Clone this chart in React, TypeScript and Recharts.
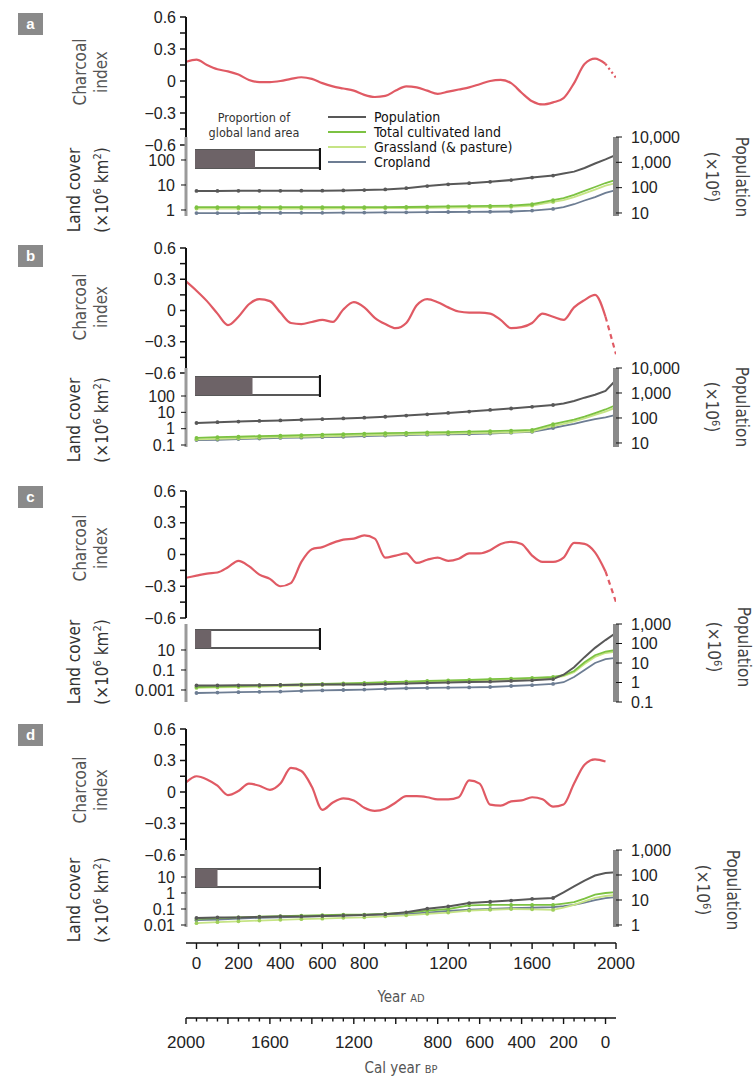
import React from "react";
import { LineChart, Line, XAxis, YAxis, BarChart, Bar, ReferenceLine } from "recharts";

const SANS = "'Liberation Sans', Arial, sans-serif";
const NARROW = "'Liberation Sans Narrow', 'DejaVu Sans Condensed', 'Liberation Sans', sans-serif";
const RED = "#e05a64";
const POP_COLOR = "#585858";
const TOTAL_COLOR = "#7cc242";
const GRASS_COLOR = "#c6e485";
const CROP_COLOR = "#6d7d93";

// charcoal index, every 50 years AD
const charcoalYears = [-50, 0, 50, 100, 150, 200, 250, 300, 350, 400, 450, 500, 550, 600, 650, 700, 750, 800, 850, 900, 950, 1000, 1050, 1100, 1150, 1200, 1250, 1300, 1350, 1400, 1450, 1500, 1550, 1600, 1650, 1700, 1750, 1800, 1850, 1900, 1950, 2000];
const charcoalA = [0.18, 0.2, 0.15, 0.11, 0.09, 0.06, 0.01, -0.01, -0.01, 0.0, 0.02, 0.035, 0.02, -0.02, -0.05, -0.07, -0.09, -0.13, -0.15, -0.14, -0.09, -0.05, -0.06, -0.09, -0.12, -0.1, -0.08, -0.06, -0.03, 0.0, 0.01, -0.02, -0.11, -0.19, -0.22, -0.2, -0.16, -0.02, 0.16, 0.21, 0.16, 0.03];
const charcoalB = [0.28, 0.19, 0.09, -0.03, -0.14, -0.06, 0.06, 0.11, 0.09, -0.02, -0.12, -0.13, -0.11, -0.09, -0.11, 0.01, 0.08, 0.03, -0.07, -0.13, -0.17, -0.12, 0.05, 0.11, 0.08, 0.03, -0.01, -0.02, -0.02, -0.03, -0.09, -0.17, -0.16, -0.12, -0.03, -0.06, -0.09, 0.03, 0.1, 0.15, -0.06, -0.42];
const charcoalC = [-0.22, -0.2, -0.18, -0.17, -0.12, -0.06, -0.11, -0.19, -0.23, -0.3, -0.27, -0.07, 0.05, 0.07, 0.11, 0.14, 0.15, 0.18, 0.15, -0.03, -0.01, 0.01, -0.08, -0.05, -0.03, -0.06, -0.04, 0.01, 0.01, 0.04, 0.1, 0.12, 0.1, -0.01, -0.07, -0.07, -0.03, 0.11, 0.1, 0.02, -0.16, -0.45];
const charcoalD = [0.09, 0.15, 0.12, 0.06, -0.03, 0.01, 0.08, 0.06, 0.02, 0.08, 0.23, 0.2, 0.05, -0.17, -0.1, -0.06, -0.08, -0.15, -0.18, -0.16, -0.1, -0.04, -0.04, -0.05, -0.07, -0.07, -0.05, 0.11, 0.08, -0.12, -0.13, -0.09, -0.08, -0.05, -0.07, -0.14, -0.12, 0.08, 0.26, 0.31, 0.29, null];

// land cover (x10^6 km2) and population (x10^6)
const landYears = [0, 100, 200, 300, 400, 500, 600, 700, 800, 900, 1000, 1100, 1200, 1300, 1400, 1500, 1600, 1700, 1750, 1800, 1850, 1900, 1950, 2000];
const popA = [74, 74, 75, 75, 75, 76, 76, 78, 80, 85, 95, 115, 135, 150, 170, 200, 250, 300, 360, 430, 600, 900, 1300, 1950];
const totalA = [1.3, 1.3, 1.3, 1.3, 1.3, 1.3, 1.3, 1.3, 1.3, 1.3, 1.32, 1.35, 1.4, 1.42, 1.45, 1.5, 1.7, 2.5, 3.0, 4.0, 5.8, 8.3, 12, 16];
const grassA = [1.15, 1.15, 1.15, 1.15, 1.15, 1.15, 1.15, 1.16, 1.17, 1.18, 1.2, 1.22, 1.25, 1.27, 1.3, 1.35, 1.5, 2.1, 2.5, 3.3, 4.6, 6.5, 9.5, 12];
const cropA = [0.75, 0.75, 0.75, 0.76, 0.76, 0.77, 0.77, 0.78, 0.79, 0.8, 0.81, 0.82, 0.83, 0.84, 0.85, 0.87, 0.95, 1.1, 1.3, 1.7, 2.4, 3.3, 4.8, 6.3];

const popB = [63, 68, 72, 76, 80, 85, 90, 96, 103, 112, 125, 140, 160, 180, 210, 240, 280, 330, 380, 480, 650, 850, 1200, 3300];
const totalB = [0.27, 0.3, 0.32, 0.35, 0.37, 0.4, 0.43, 0.46, 0.5, 0.53, 0.56, 0.59, 0.62, 0.66, 0.7, 0.76, 0.85, 1.9, 2.6, 3.6, 5.5, 9, 15, 28];
const grassB = [0.22, 0.24, 0.26, 0.28, 0.3, 0.32, 0.34, 0.37, 0.4, 0.42, 0.45, 0.47, 0.5, 0.53, 0.56, 0.6, 0.68, 1.5, 2.0, 2.8, 4.2, 7, 11, 20];
const cropB = [0.2, 0.21, 0.23, 0.25, 0.27, 0.28, 0.3, 0.32, 0.35, 0.38, 0.41, 0.43, 0.45, 0.47, 0.5, 0.57, 0.65, 1.1, 1.5, 2.0, 2.8, 3.8, 5, 7];

const popC = [0.7, 0.71, 0.72, 0.73, 0.75, 0.76, 0.78, 0.79, 0.8, 0.85, 0.9, 0.95, 1.0, 1.05, 1.1, 1.2, 1.3, 1.5, 2.5, 6, 20, 60, 150, 350];
const totalC = [0.002, 0.0022, 0.0025, 0.0028, 0.0032, 0.0036, 0.004, 0.0045, 0.005, 0.006, 0.007, 0.008, 0.009, 0.01, 0.012, 0.014, 0.016, 0.02, 0.03, 0.08, 0.6, 3, 7, 10];
const grassC = [0.0016, 0.0018, 0.002, 0.0022, 0.0025, 0.0028, 0.0032, 0.0036, 0.004, 0.0048, 0.0056, 0.0064, 0.0072, 0.008, 0.0095, 0.011, 0.013, 0.016, 0.024, 0.06, 0.4, 2, 5, 7];
const cropC = [0.0005, 0.00055, 0.0006, 0.00065, 0.0007, 0.0008, 0.0009, 0.001, 0.0011, 0.0013, 0.0015, 0.0016, 0.0017, 0.0018, 0.002, 0.0025, 0.003, 0.004, 0.006, 0.02, 0.1, 0.5, 1.2, 1.6];

const popD = [1.9, 2.0, 2.0, 2.1, 2.2, 2.2, 2.3, 2.4, 2.5, 2.7, 3.2, 4.5, 5.5, 7.5, 8.5, 9.5, 11, 12, 20, 35, 60, 95, 120, 130];
const totalD = [0.024, 0.027, 0.03, 0.033, 0.036, 0.039, 0.042, 0.045, 0.045, 0.05, 0.06, 0.08, 0.1, 0.17, 0.18, 0.18, 0.18, 0.18, 0.22, 0.27, 0.45, 0.8, 1.0, 1.15];
const grassD = [0.013, 0.015, 0.017, 0.019, 0.021, 0.023, 0.025, 0.028, 0.03, 0.035, 0.04, 0.05, 0.06, 0.08, 0.09, 0.1, 0.095, 0.087, 0.12, 0.18, 0.3, 0.49, 0.65, 0.75];
const cropD = [0.02, 0.022, 0.025, 0.028, 0.03, 0.033, 0.036, 0.04, 0.043, 0.047, 0.05, 0.06, 0.075, 0.09, 0.1, 0.115, 0.12, 0.13, 0.15, 0.18, 0.25, 0.36, 0.48, 0.56];

// proportion of global land area, panels a-d
const landShare = [0.48, 0.46, 0.13, 0.18];

const charcoalTicks = [-0.6, -0.45, -0.3, -0.15, 0, 0.15, 0.3, 0.45, 0.6];
const charcoalLabels = [-0.6, -0.3, 0, 0.3, 0.6];
const adTicks = [0, 100, 200, 300, 400, 500, 600, 700, 800, 900, 1000, 1100, 1200, 1300, 1400, 1500, 1600, 1700, 1800, 1900, 2000];
const bpTicks = [0, 50, 100, 150, 200, 250, 300, 350, 400, 450, 500, 550, 600, 650, 700, 750, 800, 850, 900, 950, 1000, 1050, 1100, 1150, 1200, 1250, 1300, 1350, 1400, 1450, 1500, 1550, 1600, 1650, 1700, 1750, 1800, 1850, 1900, 1950, 2000];
const axisLabels = [0, 200, 400, 600, 800, 1200, 1600, 2000];
const BP_ZERO_AD = 1950;

const panels = [
  {
    letter: "a", box: 13, charcoal: charcoalA, tailDash: "2 3", cTop: 17, cBottom: 145,
    pop: popA, total: totalA, grass: grassA, crop: cropA, lTop: 137, lBottom: 216,
    leftDomain: [0.575, 832], leftTicks: [1, 10, 100], rightDomain: [7.6, 10000], rightTicks: [10, 100, 1000, 10000],
    bar: 150, cLabel: 72, lLabel: 190, pLabel: 177, pX: 727,
  },
  {
    letter: "b", box: 245, charcoal: charcoalB, tailDash: "5 4", cTop: 248, cBottom: 373,
    pop: popB, total: totalB, grass: grassB, crop: cropB, lTop: 368, lBottom: 447,
    leftDomain: [0.0755, 5190], leftTicks: [0.1, 1, 10, 100], rightDomain: [6.9, 10000], rightTicks: [10, 100, 1000, 10000],
    bar: 377, cLabel: 307, lLabel: 420, pLabel: 407, pX: 727,
  },
  {
    letter: "c", box: 486, charcoal: charcoalC, tailDash: "5 4", cTop: 491, cBottom: 618,
    pop: popC, total: totalC, grass: grassC, crop: cropC, lTop: 624, lBottom: 702,
    leftDomain: [0.000063, 3981], leftTicks: [0.001, 0.1, 10], rightDomain: [0.1, 1000], rightTicks: [0.1, 1, 10, 100, 1000],
    bar: 630, cLabel: 548, lLabel: 662, pLabel: 647, pX: 729,
  },
  {
    letter: "d", box: 724, charcoal: charcoalD, tailDash: null, cTop: 729, cBottom: 855,
    pop: popD, total: totalD, grass: grassD, crop: cropD, lTop: 850, lBottom: 927,
    leftDomain: [0.0075, 487], leftTicks: [0.01, 0.1, 1, 10], rightDomain: [0.83, 1000], rightTicks: [1, 10, 100, 1000],
    bar: 869, cLabel: 790, lLabel: 900, pLabel: 890, pX: 718,
  },
];

const fmtCharcoal = (v: number) => {
  if (!charcoalLabels.some((l) => Math.abs(l - v) < 1e-9)) return "";
  if (Math.abs(v) < 1e-9) return "0";
  return v < 0 ? `\u2212${Math.abs(v).toFixed(1)}` : v.toFixed(1);
};
const fmtLog = (v: number) => (v >= 1000 ? v.toLocaleString("en-US") : String(v));

function RotLabel({ cx, cy, lines, angle, size, gap, color }: any) {
  return (
    <div
      style={{
        position: "absolute", left: cx, top: cy, transform: `translate(-50%, -50%) rotate(${angle}deg)`,
        textAlign: "center", whiteSpace: "nowrap", fontSize: size, lineHeight: `${gap}px`, color, fontFamily: NARROW,
      }}
    >
      {lines.map((l: any, i: number) => (
        <div key={i}>{l}</div>
      ))}
    </div>
  );
}

function CharcoalChart({ p }: any) {
  const data = charcoalYears.map((year, i) => ({
    year,
    solid: year <= 1950 ? p.charcoal[i] : null,
    tail: year >= 1950 ? p.charcoal[i] : null,
  }));
  const h = p.cBottom - p.cTop;
  return (
    <div style={{ position: "absolute", left: 0, top: p.cTop - 10 }}>
      <LineChart width={754} height={h + 20} data={data} margin={{ top: 10, right: 138, bottom: 10, left: 0 }}>
        <XAxis dataKey="year" type="number" domain={[-50, 2000]} hide allowDataOverflow />
        <YAxis
          width={186} domain={[-0.6, 0.6]} ticks={charcoalTicks} interval={0} tickFormatter={fmtCharcoal}
          axisLine={{ stroke: "#111", strokeWidth: 2 }} tickLine={{ stroke: "#111", strokeWidth: 1.5 }}
          tickSize={6} tickMargin={4} tick={{ fill: "#222", fontSize: 16, fontFamily: SANS }} allowDataOverflow
        />
        <Line dataKey="solid" type="monotone" stroke={RED} strokeWidth={2.2} dot={false} isAnimationActive={false} />
        {p.tailDash && (
          <Line dataKey="tail" type="monotone" stroke={RED} strokeWidth={2.2} strokeDasharray={p.tailDash} dot={false} isAnimationActive={false} />
        )}
      </LineChart>
    </div>
  );
}

const centuryDot = (color: string) => (props: any) => {
  const { cx, cy, payload, index } = props;
  if (payload.year > 1700 || cy == null) return <g key={`e-${index}`} />;
  return <circle key={`d-${index}`} cx={cx} cy={cy} r={1.9} fill={color} />;
};

function LandChart({ p }: any) {
  const data = landYears.map((year, i) => ({
    year, pop: p.pop[i], total: p.total[i], grass: p.grass[i], crop: p.crop[i],
  }));
  const h = p.lBottom - p.lTop;
  return (
    <div style={{ position: "absolute", left: 0, top: p.lTop - 10 }}>
      <LineChart width={754} height={h + 20} data={data} margin={{ top: 10, right: 0, bottom: 10, left: 0 }}>
        <XAxis dataKey="year" type="number" domain={[-50, 2000]} hide allowDataOverflow />
        <YAxis
          yAxisId="land" width={186} scale="log" domain={p.leftDomain} ticks={p.leftTicks} interval={0}
          tickFormatter={fmtLog} allowDataOverflow axisLine={{ stroke: "#9a9a9a", strokeWidth: 3 }}
          tickLine={{ stroke: "#111" }} tickSize={5} tickMargin={6} tick={{ fill: "#222", fontSize: 16, fontFamily: SANS }}
        />
        <YAxis
          yAxisId="pop" orientation="right" width={138} scale="log" domain={p.rightDomain} ticks={p.rightTicks}
          interval={0} tickFormatter={fmtLog} allowDataOverflow axisLine={{ stroke: "#8a8a8a", strokeWidth: 6 }}
          tickLine={{ stroke: "#111" }} tickSize={6} tickMargin={9} tick={{ fill: "#222", fontSize: 16, fontFamily: SANS }}
        />
        <Line yAxisId="land" dataKey="crop" stroke={CROP_COLOR} strokeWidth={1.8} dot={centuryDot(CROP_COLOR)} isAnimationActive={false} />
        <Line yAxisId="land" dataKey="grass" stroke={GRASS_COLOR} strokeWidth={1.8} dot={centuryDot("#9fcf5a")} isAnimationActive={false} />
        <Line yAxisId="land" dataKey="total" stroke={TOTAL_COLOR} strokeWidth={1.8} dot={centuryDot(TOTAL_COLOR)} isAnimationActive={false} />
        <Line yAxisId="pop" dataKey="pop" stroke={POP_COLOR} strokeWidth={2} dot={centuryDot(POP_COLOR)} isAnimationActive={false} />
      </LineChart>
    </div>
  );
}

function ShareBar({ share, top }: any) {
  return (
    <div style={{ position: "absolute", left: 195, top: top - 2 }}>
      <BarChart layout="vertical" width={126} height={22} data={[{ name: "share", share }]} margin={{ top: 0, right: 1, bottom: 0, left: 0 }} barCategoryGap={2}>
        <XAxis type="number" domain={[0, 1]} hide />
        <YAxis type="category" dataKey="name" hide />
        <Bar dataKey="share" fill="#6d6367" barSize={18} background={{ fill: "#fff", stroke: "#222", strokeWidth: 1.3 }} isAnimationActive={false} />
        <ReferenceLine x={1} stroke="#111" strokeWidth={2.2} />
      </BarChart>
    </div>
  );
}

function makeTick(majorStep: number, labelDy: number) {
  return (props: any) => {
    const { x, y, payload } = props;
    const v = payload.value;
    const major = v % majorStep === 0;
    return (
      <g>
        <line x1={x} x2={x} y1={y} y2={y + (major ? 6 : 3.5)} stroke="#111" strokeWidth={1.4} />
        {axisLabels.includes(v) && (
          <text x={x} y={y + labelDy} textAnchor="middle" fontSize={17} fontFamily={SANS} fill="#222">
            {v}
          </text>
        )}
      </g>
    );
  };
}

function TimeAxes() {
  const data = charcoalYears.map((year, i) => ({ year, bp: BP_ZERO_AD - year, v: charcoalD[i] }));
  return (
    <div style={{ position: "absolute", left: 0, top: 933 }}>
      <LineChart width={754} height={145} data={data} margin={{ top: 0, right: 138, bottom: 5, left: 186 }}>
        <XAxis
          xAxisId="ad" dataKey="year" type="number" domain={[-50, 2000]} ticks={adTicks} interval={0} height={75}
          tickSize={0} tickMargin={0} tickLine={false} tick={makeTick(200, 26)} axisLine={{ stroke: "#111", strokeWidth: 1.5 }}
          allowDataOverflow
        />
        <XAxis
          xAxisId="bp" dataKey="bp" type="number" domain={[-50, 2000]} reversed ticks={bpTicks} interval={0} height={55}
          tickSize={0} tickMargin={0} tickLine={false} tick={makeTick(200, 30)} axisLine={{ stroke: "#111", strokeWidth: 1.5 }}
          allowDataOverflow
        />
        <YAxis yAxisId="v" hide domain={[-0.6, 0.6]} />
        <Line xAxisId="ad" yAxisId="v" dataKey="v" stroke="none" dot={false} isAnimationActive={false} />
        <Line xAxisId="bp" yAxisId="v" dataKey="v" stroke="none" dot={false} isAnimationActive={false} />
      </LineChart>
    </div>
  );
}

const legendRows = [
  { name: "Population", color: POP_COLOR, y: 117 },
  { name: "Total cultivated land", color: TOTAL_COLOR, y: 132 },
  { name: "Grassland (& pasture)", color: GRASS_COLOR, y: 147 },
  { name: "Cropland", color: CROP_COLOR, y: 162 },
];

export default function App() {
  return (
    <div style={{ position: "absolute", left: 0, top: 0, width: 754, height: 1081, background: "#fff", fontFamily: SANS, overflow: "hidden" }}>
      {panels.map((p, i) => (
        <React.Fragment key={p.letter}>
          <div
            style={{
              position: "absolute", left: 18, top: p.box, width: 25, height: 22, background: "#8a8a8a", color: "#fff",
              fontWeight: "bold", fontSize: 15, lineHeight: "22px", textAlign: "center", fontFamily: SANS,
            }}
          >
            {p.letter}
          </div>
          <RotLabel cx={91} cy={p.cLabel} lines={["Charcoal", "index"]} angle={-90} size={17} gap={21} color="#555" />
          <RotLabel
            cx={88} cy={p.lLabel} angle={-90} size={17} gap={23} color="#333"
            lines={["Land cover", <span key="u">(×10<sup style={{ fontSize: 11 }}>6</sup> km<sup style={{ fontSize: 11 }}>2</sup>)</span>]}
          />
          <RotLabel
            cx={p.pX} cy={p.pLabel} angle={90} size={17} gap={26} color="#444"
            lines={["Population", <span key="u">(×10<sup style={{ fontSize: 11 }}>6</sup>)</span>]}
          />
          <CharcoalChart p={p} />
          <ShareBar share={landShare[i]} top={p.bar} />
          <LandChart p={p} />
        </React.Fragment>
      ))}

      <div style={{ position: "absolute", left: 254, top: 110, transform: "translateX(-50%)", textAlign: "center", fontFamily: NARROW, fontSize: 12.5, lineHeight: "15px", color: "#333", whiteSpace: "nowrap" }}>
        Proportion of
        <br />
        global land area
      </div>
      {legendRows.map((r) => (
        <React.Fragment key={r.name}>
          <div style={{ position: "absolute", left: 328, top: r.y - 1, width: 38, height: 2, background: r.color }} />
          <div style={{ position: "absolute", left: 374, top: r.y - 7.5, fontFamily: NARROW, fontSize: 14, lineHeight: "15px", color: "#111", whiteSpace: "nowrap" }}>
            {r.name}
          </div>
        </React.Fragment>
      ))}

      <TimeAxes />
      <div style={{ position: "absolute", left: 401, top: 988, transform: "translateX(-50%)", fontSize: 15, color: "#555", whiteSpace: "nowrap", fontFamily: NARROW }}>
        Year <span style={{ fontSize: 11 }}>AD</span>
      </div>
      <div style={{ position: "absolute", left: 401, top: 1059, transform: "translateX(-50%)", fontSize: 15, color: "#555", whiteSpace: "nowrap", fontFamily: NARROW }}>
        Cal year <span style={{ fontSize: 11 }}>BP</span>
      </div>
    </div>
  );
}
